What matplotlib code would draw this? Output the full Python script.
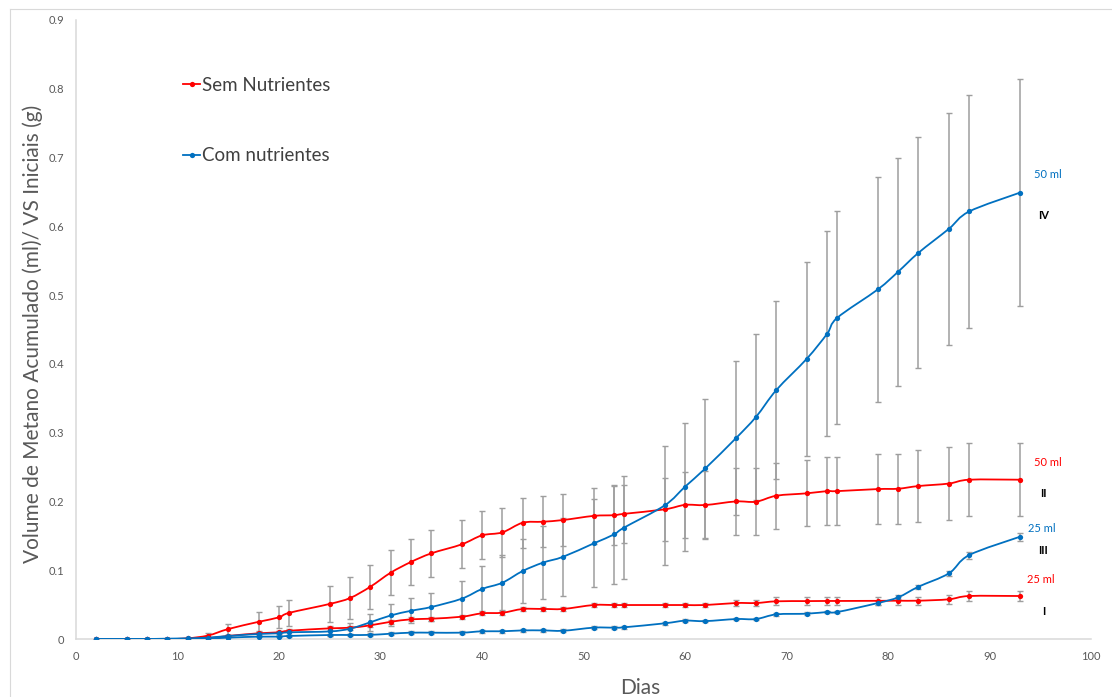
import numpy as np
import matplotlib
matplotlib.use("Agg")
import matplotlib.pyplot as plt
from matplotlib.path import Path
from matplotlib.patches import PathPatch
from matplotlib.lines import Line2D

# ---------------- data ----------------
days = [2, 5, 7, 9, 11, 13, 15, 18, 20, 21, 25, 27, 29, 31, 33, 35, 38, 40, 42, 44,
        46, 48, 51, 53, 54, 58, 60, 62, 65, 67, 69, 72, 74, 75, 79, 81, 83, 86, 88, 93]

# Sem Nutrientes, 50 ml (II)
sem_50 = [0, 0, 0, 0, 0.001, 0.005, 0.0145, 0.025, 0.0315, 0.038, 0.051, 0.0596, 0.076,
          0.0964, 0.112, 0.1245, 0.1376, 0.1507, 0.155, 0.169, 0.1705, 0.173, 0.179, 0.180,
          0.182, 0.1885, 0.195, 0.1948, 0.200, 0.1996, 0.2083, 0.2118, 0.215, 0.215, 0.218,
          0.2185, 0.2224, 0.226, 0.2316, 0.2316]
sem_50_err = [0, 0, 0, 0, 0.001, 0.003, 0.008, 0.014, 0.016, 0.019, 0.026, 0.030, 0.032,
              0.033, 0.034, 0.034, 0.035, 0.035, 0.036, 0.036, 0.037, 0.038, 0.041, 0.043,
              0.042, 0.046, 0.048, 0.049, 0.049, 0.049, 0.048, 0.048, 0.0495, 0.0495, 0.051,
              0.051, 0.053, 0.053, 0.053, 0.053]

# Sem Nutrientes, 25 ml (I)
sem_25 = [0, 0, 0, 0, 0, 0.001, 0.0044, 0.0083, 0.0097, 0.012, 0.0155, 0.0164, 0.0199,
          0.025, 0.0286, 0.0295, 0.0324, 0.0373, 0.0382, 0.0436, 0.0437, 0.0437, 0.0494,
          0.0494, 0.0494, 0.0494, 0.0494, 0.0494, 0.0523, 0.0523, 0.0548, 0.0551, 0.0553,
          0.0553, 0.0555, 0.0557, 0.0557, 0.0577, 0.0625, 0.0625]
sem_25_err = [0, 0, 0, 0, 0, 0.001, 0.002, 0.002, 0.002, 0.002, 0.003, 0.003, 0.003,
              0.003, 0.003, 0.003, 0.003, 0.003, 0.003, 0.003, 0.003, 0.003, 0.003, 0.003,
              0.003, 0.003, 0.003, 0.003, 0.005, 0.005, 0.006, 0.006, 0.006, 0.006, 0.006,
              0.006, 0.006, 0.007, 0.007, 0.007]

# Com nutrientes, 50 ml (IV)
com_50 = [0, 0, 0, 0.0005, 0.001, 0.002, 0.0044, 0.0073, 0.0083, 0.0097, 0.011, 0.015,
          0.0243, 0.0342, 0.041, 0.0465, 0.0586, 0.0727, 0.0818, 0.0988, 0.111, 0.1196,
          0.139, 0.152, 0.162, 0.1943, 0.2214, 0.248, 0.2917, 0.323, 0.362, 0.4075, 0.4438,
          0.467, 0.5083, 0.534, 0.5615, 0.5964, 0.6216, 0.649]
com_50_err = [0, 0, 0, 0, 0, 0.001, 0.002, 0.003, 0.003, 0.004, 0.006, 0.008, 0.0127,
              0.016, 0.018, 0.021, 0.026, 0.0335, 0.040, 0.046, 0.053, 0.057, 0.064, 0.072,
              0.075, 0.086, 0.093, 0.101, 0.112, 0.121, 0.129, 0.141, 0.149, 0.155, 0.163,
              0.166, 0.168, 0.169, 0.169, 0.165]

# Com nutrientes, 25 ml (III)
com_25 = [0, 0, 0, 0, 0, 0.0005, 0.002, 0.0034, 0.0034, 0.0044, 0.0058, 0.0058, 0.006,
          0.0077, 0.0092, 0.0092, 0.0092, 0.0112, 0.0112, 0.0125, 0.0125, 0.012, 0.0165,
          0.0165, 0.017, 0.0228, 0.0266, 0.026, 0.029, 0.029, 0.0358, 0.0368, 0.0392,
          0.0392, 0.0523, 0.0606, 0.076, 0.0955, 0.122, 0.1487]
com_25_err = [0, 0, 0, 0, 0, 0.001, 0.001, 0.001, 0.001, 0.001, 0.002, 0.002, 0.002,
              0.002, 0.002, 0.002, 0.002, 0.002, 0.002, 0.002, 0.002, 0.002, 0.002, 0.002,
              0.002, 0.002, 0.002, 0.002, 0.002, 0.002, 0.002, 0.002, 0.002, 0.002, 0.003,
              0.003, 0.003, 0.004, 0.005, 0.006]

legend_labels = ["Sem Nutrientes", "Com nutrientes"]
x_ticks = [0, 10, 20, 30, 40, 50, 60, 70, 80, 90, 100]
y_ticks = [0, 0.1, 0.2, 0.3, 0.4, 0.5, 0.6, 0.7, 0.8, 0.9]
y_tick_labels = ["0", "0.1", "0.2", "0.3", "0.4", "0.5", "0.6", "0.7", "0.8", "0.9"]

# annotations: (text, x, y, colour, bold)
notes = [("50 ml", 95.75, 0.676, "#0070C0", False), ("IV", 95.3, 0.616, "black", True),
         ("50 ml", 95.75, 0.257, "#FF0000", False), ("II", 95.3, 0.211, "black", True),
         ("25 ml", 95.2, 0.161, "#0070C0", False), ("III", 95.3, 0.129, "black", True),
         ("25 ml", 95.1, 0.0858, "#FF0000", False), ("I", 95.3, 0.0407, "black", True)]

# ---------------- style ----------------
FONT = ["Lato", "DejaVu Sans"]
plt.rcParams["font.family"] = FONT
RED = "#FF0000"
BLUE = "#0070C0"
GREY_TXT = "#595959"
AXIS_C = "#D9D9D9"
ERR_C = "#9E9E9E"

fig = plt.figure(figsize=(11.12, 6.97), dpi=100)
ax = fig.add_axes([76 / 1112, 58 / 697, 1015 / 1112, 619 / 697])
ax.set_xlim(0, 100)
ax.set_ylim(0, 0.9)


def smooth_path(x, y):
    pts = np.column_stack([np.asarray(x, float), np.asarray(y, float)])
    n = len(pts)
    verts = [pts[0]]
    codes = [Path.MOVETO]
    for i in range(n - 1):
        p0 = pts[i - 1] if i > 0 else pts[i]
        p1 = pts[i]
        p2 = pts[i + 1]
        p3 = pts[i + 2] if i + 2 < n else pts[i + 1]
        c1 = p1 + (p2 - p0) / 6.0
        c2 = p2 - (p3 - p1) / 6.0
        verts += [c1, c2, p2]
        codes += [Path.CURVE4] * 3
    return Path(verts, codes)


series = [(sem_50, sem_50_err, RED), (sem_25, sem_25_err, RED),
          (com_50, com_50_err, BLUE), (com_25, com_25_err, BLUE)]

d = np.array(days, float)
for vals, errs, col in series:
    v = np.array(vals, float)
    e = np.array(errs, float)
    m = e > 0
    ax.errorbar(d[m], v[m], yerr=e[m], fmt="none", ecolor=ERR_C, elinewidth=1.1,
                capsize=2.2, capthick=1.0, zorder=2)
for vals, errs, col in series:
    ax.add_patch(PathPatch(smooth_path(days, vals), facecolor="none", edgecolor=col,
                           lw=1.3, zorder=3, capstyle="round", joinstyle="round"))
    ax.plot(days, vals, linestyle="none", marker="o", ms=3.8, color=col,
            markeredgewidth=0, zorder=4)

# legend
handles = [Line2D([0], [0], color=RED, lw=1.3, marker="o", ms=3.8, markeredgewidth=0),
           Line2D([0], [0], color=BLUE, lw=1.3, marker="o", ms=3.8, markeredgewidth=0)]
leg = ax.legend(handles, legend_labels, loc="center left",
                bbox_to_anchor=((183 - 76) / 1015, (639 - 120.5) / 619),
                frameon=False, fontsize=13.5, handlelength=0.92, handletextpad=0.1,
                labelspacing=2.85, borderpad=0, borderaxespad=0)
for t in leg.get_texts():
    t.set_color("#404040")

for txt, x, y, col, bold in notes:
    ax.text(x, y, txt, color=col, fontsize=8, fontweight="bold" if bold else "normal",
            ha="center", va="center")

# axes styling
for s in ["top", "right"]:
    ax.spines[s].set_visible(False)
for s in ["left", "bottom"]:
    ax.spines[s].set_color(AXIS_C)
    ax.spines[s].set_linewidth(1.1)
ax.set_xticks(x_ticks)
ax.set_xticklabels([str(t) for t in x_ticks])
ax.set_yticks(y_ticks)
ax.set_yticklabels(y_tick_labels)
ax.tick_params(axis="both", length=0, labelsize=8, labelcolor=GREY_TXT)
ax.tick_params(axis="y", pad=8.5)
ax.tick_params(axis="x", pad=8.5)

fig.text(33 / 1112, 1 - 334 / 697, "Volume de Metano Acumulado (ml)/ VS Iniciais (g)",
         rotation=90, ha="center", va="center", fontsize=15, color=GREY_TXT)
fig.text(640 / 1112, 1 - 688 / 697, "Dias", ha="center", va="center", fontsize=15,
         color=GREY_TXT)

# outer chart border
fig.add_artist(Line2D([10 / 1112, 1.0], [1 - 9 / 697, 1 - 9 / 697], transform=fig.transFigure,
                      color=AXIS_C, lw=0.8))
fig.add_artist(Line2D([10 / 1112, 10 / 1112], [0, 1 - 9 / 697], transform=fig.transFigure,
                      color=AXIS_C, lw=0.8))

fig.savefig("out.png", dpi=100)
